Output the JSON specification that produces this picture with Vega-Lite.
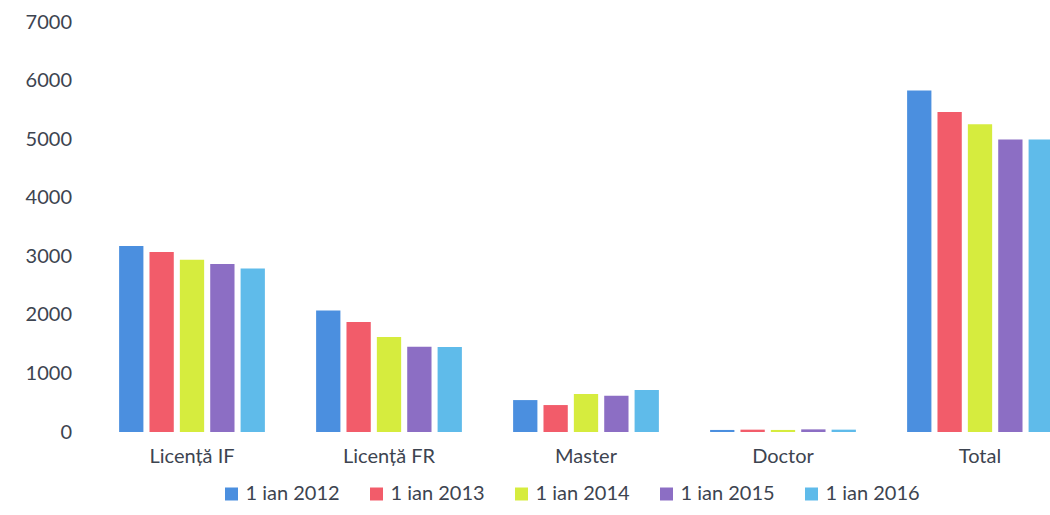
{
  "$schema": "https://vega.github.io/schema/vega-lite/v6.json",
  "width": 985,
  "height": 410,
  "autosize": "none",
  "padding": {"left": 93.5, "top": 22, "right": 0, "bottom": 83},
  "background": "white",
  "config": {
    "view": {"stroke": null},
    "font": "Lato",
    "axis": {"labelFont": "Lato", "labelColor": "#3d4450", "labelFontSize": 20},
    "legend": {"labelFont": "Lato", "labelColor": "#3d4450", "labelFontSize": 20}
  },
  "data": {
    "values": [
      {"cat": "Licență IF", "year": "1 ian 2012", "value": 3175},
      {"cat": "Licență IF", "year": "1 ian 2013", "value": 3075},
      {"cat": "Licență IF", "year": "1 ian 2014", "value": 2940},
      {"cat": "Licență IF", "year": "1 ian 2015", "value": 2870},
      {"cat": "Licență IF", "year": "1 ian 2016", "value": 2790},
      {"cat": "Licență FR", "year": "1 ian 2012", "value": 2075},
      {"cat": "Licență FR", "year": "1 ian 2013", "value": 1880},
      {"cat": "Licență FR", "year": "1 ian 2014", "value": 1620},
      {"cat": "Licență FR", "year": "1 ian 2015", "value": 1455},
      {"cat": "Licență FR", "year": "1 ian 2016", "value": 1450},
      {"cat": "Master", "year": "1 ian 2012", "value": 545},
      {"cat": "Master", "year": "1 ian 2013", "value": 460},
      {"cat": "Master", "year": "1 ian 2014", "value": 650},
      {"cat": "Master", "year": "1 ian 2015", "value": 620},
      {"cat": "Master", "year": "1 ian 2016", "value": 715},
      {"cat": "Doctor", "year": "1 ian 2012", "value": 35},
      {"cat": "Doctor", "year": "1 ian 2013", "value": 40},
      {"cat": "Doctor", "year": "1 ian 2014", "value": 35},
      {"cat": "Doctor", "year": "1 ian 2015", "value": 45},
      {"cat": "Doctor", "year": "1 ian 2016", "value": 40},
      {"cat": "Total", "year": "1 ian 2012", "value": 5830},
      {"cat": "Total", "year": "1 ian 2013", "value": 5465},
      {"cat": "Total", "year": "1 ian 2014", "value": 5255},
      {"cat": "Total", "year": "1 ian 2015", "value": 4995},
      {"cat": "Total", "year": "1 ian 2016", "value": 4995}
    ]
  },
  "mark": {"type": "bar"},
  "encoding": {
    "x": {
      "field": "cat",
      "type": "nominal",
      "sort": null,
      "scale": {"paddingInner": 0.26, "paddingOuter": 0.13},
      "axis": {"title": null, "labelAngle": 0, "domain": false, "ticks": false, "labelPadding": 14}
    },
    "xOffset": {
      "field": "year",
      "type": "nominal",
      "scale": {"paddingInner": 0.2, "paddingOuter": 0}
    },
    "y": {
      "field": "value",
      "type": "quantitative",
      "scale": {"domain": [0, 7000], "nice": false},
      "axis": {"title": null, "format": "d", "values": [0, 1000, 2000, 3000, 4000, 5000, 6000, 7000], "domain": false, "ticks": false, "grid": false, "labelPadding": 22}
    },
    "color": {
      "field": "year",
      "type": "nominal",
      "scale": {
        "domain": ["1 ian 2012", "1 ian 2013", "1 ian 2014", "1 ian 2015", "1 ian 2016"],
        "range": ["#4b8fdf", "#f25c6a", "#d6ec3e", "#8c6ec4", "#5fbbea"]
      },
      "legend": {
        "title": null,
        "orient": "none",
        "direction": "horizontal",
        "legendX": 128,
        "legendY": 462,
        "symbolType": "square",
        "symbolSize": 169,
        "symbolStrokeWidth": 0,
        "labelOffset": 4,
        "columnPadding": 26
      }
    }
  }
}
